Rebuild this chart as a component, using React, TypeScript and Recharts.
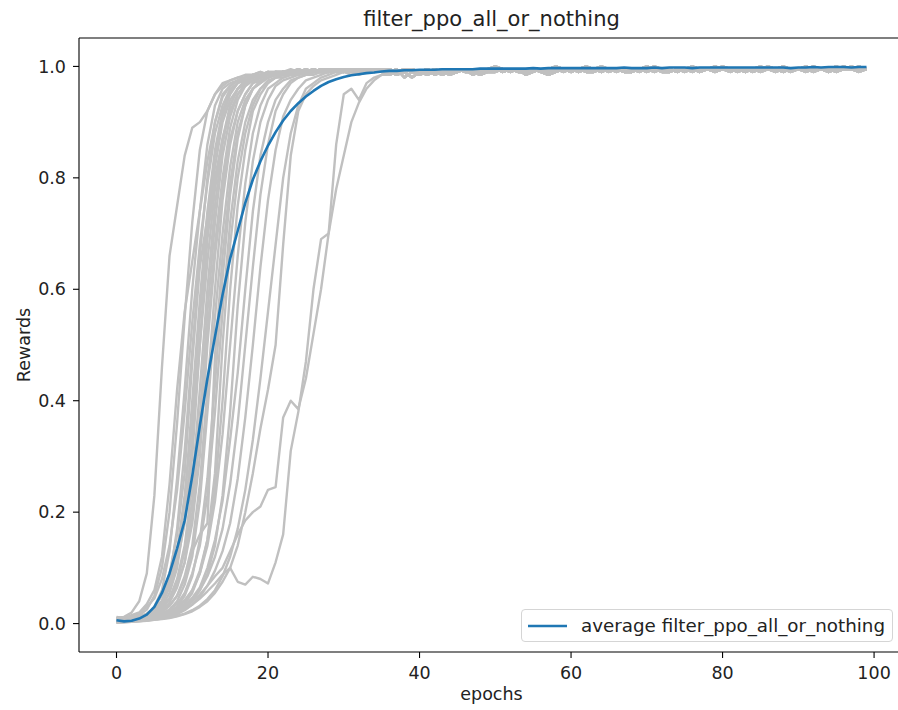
import React from 'react';
import { LineChart, Line, XAxis, YAxis, Legend, ReferenceLine } from 'recharts';

// mean reward over all seeds, epochs 0..99
const avgRewards = [
  0.006, 0.004, 0.005, 0.009, 0.016, 0.03, 0.055, 0.09, 0.135, 0.185,
  0.265, 0.355, 0.44, 0.515, 0.59, 0.655, 0.705, 0.755, 0.797, 0.83,
  0.858, 0.882, 0.903, 0.92, 0.934, 0.946, 0.956, 0.965, 0.972, 0.977,
  0.981, 0.984, 0.986, 0.988, 0.989, 0.991, 0.992, 0.992, 0.993, 0.993,
  0.994, 0.994, 0.994, 0.995, 0.995, 0.995, 0.995, 0.995, 0.996, 0.996,
  0.996, 0.996, 0.996, 0.996, 0.996, 0.997, 0.996, 0.997, 0.997, 0.997,
  0.997, 0.997, 0.997, 0.997, 0.997, 0.997, 0.997, 0.998, 0.997, 0.997,
  0.997, 0.998, 0.997, 0.998, 0.998, 0.998, 0.997, 0.998, 0.998, 0.998,
  0.998, 0.998, 0.998, 0.998, 0.998, 0.998, 0.998, 0.998, 0.998, 0.997,
  0.998, 0.998, 0.999, 0.998, 0.999, 0.999, 0.999, 0.998, 0.999, 0.999,
];

// individual runs, epochs 0..35
const run01 = [0.01,0.012,0.02,0.04,0.09,0.23,0.46,0.66,0.75,0.84,0.89,0.9,0.92,0.95,0.97,0.975,0.98,0.98,0.985,0.98,0.985,0.99,0.985,0.99,0.99,0.985,0.99,0.99,0.995,0.99,0.99,0.995,0.99,0.995,0.99,0.995];
const run02 = [0.008,0.01,0.015,0.02,0.035,0.06,0.12,0.25,0.42,0.56,0.65,0.74,0.83,0.9,0.95,0.965,0.975,0.98,0.985,0.98,0.99,0.985,0.99,0.99,0.985,0.99,0.995,0.99,0.99,0.995,0.99,0.995,0.995,0.99,0.995,0.995];
const run03 = [0.005,0.006,0.01,0.015,0.025,0.05,0.1,0.2,0.36,0.55,0.72,0.85,0.92,0.95,0.965,0.975,0.98,0.985,0.985,0.99,0.985,0.99,0.99,0.995,0.99,0.99,0.995,0.99,0.995,0.99,0.995,0.995,0.99,0.995,0.995,0.99];
const run04 = [0.003,0.004,0.006,0.01,0.016,0.03,0.06,0.13,0.26,0.42,0.6,0.74,0.86,0.93,0.96,0.97,0.975,0.98,0.985,0.99,0.985,0.99,0.99,0.99,0.995,0.99,0.99,0.995,0.99,0.995,0.995,0.99,0.995,0.99,0.995,0.995];
const run05 = [0.01,0.008,0.012,0.018,0.03,0.045,0.08,0.14,0.24,0.38,0.54,0.68,0.79,0.88,0.93,0.96,0.97,0.98,0.985,0.98,0.99,0.99,0.985,0.99,0.995,0.99,0.99,0.995,0.995,0.99,0.995,0.99,0.995,0.995,0.99,0.995];
const run06 = [0.004,0.005,0.007,0.009,0.014,0.022,0.04,0.08,0.17,0.31,0.49,0.66,0.8,0.9,0.945,0.965,0.975,0.98,0.98,0.985,0.99,0.985,0.99,0.99,0.99,0.995,0.99,0.995,0.99,0.995,0.99,0.995,0.995,0.99,0.995,0.995];
const run07 = [0.006,0.007,0.009,0.012,0.018,0.028,0.05,0.09,0.16,0.27,0.47,0.64,0.73,0.84,0.91,0.95,0.97,0.975,0.98,0.985,0.985,0.99,0.99,0.985,0.99,0.99,0.995,0.99,0.995,0.995,0.99,0.995,0.99,0.995,0.995,0.99];
const run08 = [0.002,0.003,0.005,0.008,0.012,0.02,0.035,0.065,0.12,0.22,0.4,0.58,0.74,0.85,0.92,0.955,0.97,0.98,0.985,0.985,0.99,0.99,0.985,0.99,0.995,0.99,0.99,0.995,0.99,0.995,0.995,0.99,0.995,0.995,0.99,0.995];
const run09 = [0.008,0.006,0.008,0.011,0.015,0.024,0.04,0.07,0.13,0.23,0.36,0.55,0.71,0.82,0.9,0.94,0.96,0.975,0.98,0.98,0.985,0.99,0.99,0.985,0.99,0.99,0.995,0.99,0.995,0.99,0.995,0.995,0.99,0.995,0.99,0.995];
const run10 = [0.003,0.004,0.006,0.008,0.011,0.018,0.03,0.055,0.1,0.19,0.33,0.5,0.65,0.78,0.87,0.93,0.96,0.97,0.98,0.985,0.985,0.99,0.99,0.99,0.985,0.99,0.995,0.99,0.99,0.995,0.995,0.99,0.995,0.99,0.995,0.995];
const run11 = [0.012,0.01,0.011,0.013,0.017,0.025,0.04,0.065,0.11,0.18,0.3,0.5,0.69,0.8,0.87,0.92,0.95,0.965,0.975,0.98,0.985,0.985,0.99,0.99,0.99,0.995,0.99,0.99,0.995,0.99,0.995,0.995,0.99,0.995,0.995,0.99];
const run12 = [0.004,0.005,0.006,0.008,0.01,0.015,0.025,0.045,0.08,0.14,0.25,0.42,0.6,0.75,0.86,0.93,0.96,0.975,0.98,0.985,0.99,0.985,0.99,0.99,0.995,0.99,0.99,0.995,0.99,0.995,0.99,0.995,0.995,0.99,0.995,0.995];
const run13 = [0.006,0.006,0.007,0.009,0.012,0.018,0.028,0.045,0.075,0.13,0.22,0.37,0.56,0.72,0.84,0.91,0.95,0.97,0.975,0.98,0.985,0.99,0.99,0.985,0.99,0.99,0.995,0.99,0.995,0.995,0.99,0.995,0.99,0.995,0.995,0.99];
const run14 = [0.002,0.003,0.004,0.006,0.009,0.014,0.022,0.038,0.065,0.11,0.2,0.34,0.52,0.68,0.8,0.89,0.94,0.965,0.975,0.98,0.985,0.985,0.99,0.99,0.99,0.995,0.99,0.995,0.99,0.995,0.995,0.99,0.995,0.995,0.99,0.995];
const run15 = [0.01,0.009,0.01,0.012,0.015,0.02,0.03,0.045,0.07,0.11,0.18,0.3,0.5,0.66,0.78,0.87,0.92,0.95,0.97,0.975,0.98,0.985,0.99,0.985,0.99,0.99,0.995,0.99,0.99,0.995,0.99,0.995,0.995,0.99,0.995,0.995];
const run16 = [0.005,0.005,0.006,0.008,0.01,0.014,0.02,0.032,0.05,0.085,0.14,0.25,0.42,0.6,0.76,0.86,0.92,0.95,0.97,0.98,0.98,0.985,0.99,0.99,0.99,0.985,0.99,0.995,0.99,0.995,0.99,0.995,0.995,0.99,0.995,0.995];
const run17 = [0.003,0.004,0.005,0.006,0.008,0.011,0.016,0.025,0.04,0.07,0.12,0.22,0.38,0.55,0.7,0.82,0.9,0.94,0.96,0.975,0.98,0.985,0.985,0.99,0.99,0.99,0.995,0.99,0.995,0.99,0.995,0.995,0.99,0.995,0.99,0.995];
const run18 = [0.007,0.007,0.008,0.01,0.012,0.016,0.022,0.032,0.05,0.08,0.13,0.16,0.18,0.48,0.66,0.79,0.88,0.93,0.96,0.97,0.98,0.985,0.985,0.99,0.99,0.995,0.99,0.99,0.995,0.99,0.995,0.995,0.99,0.995,0.995,0.99];
const run19 = [0.004,0.004,0.005,0.006,0.008,0.01,0.014,0.02,0.03,0.05,0.085,0.15,0.26,0.43,0.62,0.77,0.87,0.93,0.96,0.97,0.98,0.985,0.99,0.985,0.99,0.99,0.995,0.99,0.995,0.995,0.99,0.995,0.99,0.995,0.995,0.99];
const run20 = [0.008,0.008,0.009,0.01,0.011,0.014,0.018,0.025,0.035,0.055,0.09,0.14,0.23,0.38,0.56,0.72,0.83,0.9,0.94,0.96,0.975,0.98,0.985,0.99,0.985,0.99,0.99,0.995,0.99,0.995,0.995,0.99,0.995,0.995,0.99,0.995];
const run21 = [0.002,0.003,0.003,0.004,0.006,0.008,0.011,0.016,0.024,0.036,0.055,0.09,0.15,0.27,0.5,0.68,0.8,0.88,0.93,0.96,0.97,0.98,0.985,0.985,0.99,0.99,0.995,0.99,0.99,0.995,0.99,0.995,0.995,0.99,0.995,0.995];
const run22 = [0.005,0.005,0.006,0.007,0.009,0.011,0.014,0.02,0.028,0.04,0.06,0.095,0.15,0.24,0.4,0.6,0.75,0.85,0.92,0.95,0.97,0.98,0.98,0.985,0.99,0.99,0.99,0.995,0.99,0.995,0.99,0.995,0.995,0.99,0.995,0.995];
const run23 = [0.01,0.01,0.011,0.012,0.013,0.015,0.018,0.022,0.03,0.042,0.06,0.09,0.14,0.22,0.34,0.5,0.66,0.79,0.88,0.93,0.96,0.97,0.98,0.985,0.985,0.99,0.99,0.995,0.99,0.995,0.995,0.99,0.995,0.99,0.995,0.995];
const run24 = [0.003,0.003,0.004,0.005,0.006,0.008,0.01,0.013,0.018,0.026,0.04,0.06,0.09,0.14,0.23,0.38,0.57,0.72,0.83,0.9,0.94,0.965,0.975,0.98,0.985,0.99,0.99,0.99,0.995,0.99,0.995,0.995,0.99,0.995,0.995,0.99];
const run25 = [0.006,0.006,0.007,0.008,0.009,0.011,0.014,0.018,0.024,0.033,0.046,0.065,0.1,0.15,0.22,0.33,0.45,0.6,0.74,0.84,0.9,0.94,0.96,0.975,0.98,0.985,0.99,0.99,0.99,0.995,0.99,0.995,0.995,0.99,0.995,0.995];
const run26 = [0.004,0.004,0.005,0.006,0.007,0.009,0.012,0.016,0.022,0.03,0.042,0.06,0.085,0.12,0.17,0.25,0.36,0.5,0.64,0.77,0.86,0.92,0.95,0.97,0.98,0.985,0.985,0.99,0.99,0.995,0.99,0.995,0.995,0.99,0.995,0.995];
const run27 = [0.002,0.002,0.003,0.004,0.005,0.007,0.009,0.012,0.017,0.024,0.034,0.048,0.068,0.095,0.13,0.18,0.26,0.37,0.5,0.64,0.76,0.85,0.91,0.94,0.96,0.975,0.98,0.985,0.99,0.99,0.995,0.99,0.995,0.995,0.99,0.995];
const run28 = [0.003,0.003,0.004,0.005,0.006,0.007,0.009,0.011,0.014,0.018,0.024,0.032,0.044,0.06,0.085,0.12,0.17,0.24,0.33,0.44,0.56,0.68,0.8,0.88,0.93,0.96,0.97,0.98,0.985,0.99,0.99,0.985,0.99,0.995,0.99,0.995];
const run29 = [0.004,0.004,0.005,0.005,0.006,0.007,0.008,0.01,0.013,0.017,0.022,0.03,0.04,0.055,0.075,0.1,0.14,0.2,0.27,0.35,0.42,0.5,0.68,0.84,0.92,0.95,0.965,0.975,0.98,0.985,0.99,0.99,0.985,0.99,0.995,0.99];
const run30 = [0.003,0.004,0.005,0.006,0.007,0.009,0.012,0.016,0.022,0.03,0.04,0.052,0.068,0.085,0.1,0.13,0.16,0.185,0.2,0.21,0.24,0.245,0.37,0.4,0.385,0.44,0.52,0.6,0.7,0.78,0.84,0.9,0.935,0.96,0.975,0.985];
const run31 = [0.005,0.005,0.006,0.007,0.008,0.01,0.012,0.015,0.02,0.026,0.034,0.045,0.058,0.072,0.088,0.1,0.075,0.07,0.084,0.08,0.072,0.11,0.16,0.31,0.38,0.47,0.6,0.69,0.7,0.86,0.95,0.96,0.94,0.97,0.98,0.985];

// plateau noise, epochs 36..99
const tailA = [
  0.995,0.99,0.995,0.995,0.99,0.985,0.99,0.995, 0.995,0.99,0.995,0.995,0.99,0.995,1.0,0.995,
  0.99,0.995,0.995,0.995,0.99,0.995,1.0,0.995, 0.995,0.99,0.995,0.995,1.0,0.995,0.995,0.99,
  0.995,0.995,1.0,0.995,0.995,0.995,0.99,0.995, 1.0,0.995,0.995,0.995,1.0,0.995,0.995,0.99,
  0.995,1.0,0.995,0.995,1.0,0.995,0.995,0.995, 1.0,0.995,0.995,1.0,0.995,0.995,1.0,0.995,
];
const tailB = [
  0.99,0.985,0.99,0.98,0.99,0.995,0.99,0.985, 0.99,0.995,0.99,0.99,0.985,0.99,0.995,0.99,
  0.995,0.99,0.99,0.995,0.99,0.985,0.99,0.995, 0.99,0.995,0.99,0.99,0.995,0.99,0.995,0.99,
  0.99,0.995,0.99,0.995,0.99,0.99,0.995,0.99, 0.995,0.99,0.995,0.99,0.995,0.995,0.99,0.995,
  0.99,0.995,0.995,0.99,0.995,0.99,0.995,0.995, 0.99,0.995,0.995,0.99,0.995,0.995,0.99,0.995,
];
const tailC = [
  0.985,0.99,0.995,0.99,0.99,0.995,0.985,0.99, 0.995,0.99,0.995,0.985,0.99,0.995,0.995,0.99,
  0.995,0.995,0.99,0.995,0.995,0.99,0.995,0.995, 0.99,0.995,1.0,0.995,0.99,0.995,0.995,0.995,
  0.99,0.995,0.995,1.0,0.995,0.99,0.995,0.995, 0.995,0.99,0.995,1.0,0.995,0.995,0.995,0.99,
  0.995,0.995,1.0,0.995,0.99,0.995,0.995,1.0, 0.995,0.995,0.99,0.995,1.0,0.995,0.995,0.995,
];
const tailD = [
  0.99,0.995,0.98,0.99,0.985,0.99,0.995,0.99, 0.985,0.99,0.995,0.99,0.995,0.99,0.99,0.995,
  0.99,0.995,0.985,0.99,0.995,0.99,0.995,0.99, 0.995,0.99,0.995,0.995,0.99,0.995,0.99,0.995,
  0.995,0.99,0.995,0.99,0.995,0.995,0.99,0.995, 0.99,0.995,0.995,0.99,0.995,0.99,0.995,0.995,
  0.995,0.99,0.995,0.995,0.99,0.995,0.995,0.99, 0.995,0.995,0.99,0.995,0.995,1.0,0.995,0.995,
];

const runs = [
  run01, run02, run03, run04, run05, run06, run07, run08, run09, run10,
  run11, run12, run13, run14, run15, run16, run17, run18, run19, run20,
  run21, run22, run23, run24, run25, run26, run27, run28, run29, run30, run31,
];
const tails = [tailA, tailB, tailC, tailD];
const TAIL_START = 36;

const xTicks = [0, 20, 40, 60, 80, 100];
const yTicks = [0, 0.2, 0.4, 0.6, 0.8, 1.0];

const FONT = '"DejaVu Sans", sans-serif';
const INK = '#222';

const runSeries = runs.map((r, i) =>
  r.map((y, x) => ({ x, y })).concat(tails[i % tails.length].map((y, j) => ({ x: TAIL_START + j, y })))
);
const avgSeries = avgRewards.map((y, x) => ({ x, y }));

const LegendBox = () => (
  <div
    style={{
      boxSizing: 'border-box',
      width: '100%',
      height: '100%',
      border: '1px solid #d5d5d5',
      borderRadius: 4,
      background: 'rgba(255,255,255,0.8)',
      display: 'flex',
      alignItems: 'center',
      fontFamily: FONT,
      fontSize: 18.3,
      color: INK,
      whiteSpace: 'nowrap',
    }}
  >
    <svg width={53} height={10} style={{ marginLeft: 6, flex: 'none' }}>
      <line x1={0} y1={5} x2={39} y2={5} stroke="#1f77b4" strokeWidth={2.6} />
    </svg>
    <span>average filter_ppo_all_or_nothing</span>
  </div>
);

const App = () => {
  return (
    <div style={{ position: 'absolute', left: 0, top: 0, width: 898, height: 710, overflow: 'hidden', background: '#fff' }}>
      <LineChart width={920} height={710} margin={{ top: 38, right: 16, left: 0, bottom: 28 }}>
        <XAxis
          dataKey="x"
          type="number"
          domain={[-4.95, 103.95]}
          ticks={xTicks}
          allowDataOverflow
          height={30}
          tickSize={6}
          tickMargin={9}
          stroke="#000"
          strokeWidth={1.1}
          tick={{ fill: INK, fontSize: 17.5, fontFamily: FONT }}
        />
        <YAxis
          dataKey="y"
          type="number"
          domain={[-0.051, 1.051]}
          ticks={yTicks}
          allowDataOverflow
          width={79}
          tickSize={6}
          tickMargin={7}
          stroke="#000"
          strokeWidth={1.1}
          tickFormatter={(v: number) => v.toFixed(1)}
          tick={{ fill: INK, fontSize: 17.5, fontFamily: FONT }}
        />
        <ReferenceLine y={1.051} stroke="#000" strokeWidth={1.1} />
        <ReferenceLine x={103.95} stroke="#000" strokeWidth={1.1} />
        {runSeries.map((d, i) => (
          <Line
            key={'run' + i}
            data={d}
            dataKey="y"
            type="linear"
            stroke="#c0c0c0"
            strokeWidth={2.4}
            strokeLinejoin="round"
            dot={false}
            activeDot={false}
            legendType="none"
            isAnimationActive={false}
          />
        ))}
        <Line
          data={avgSeries}
          dataKey="y"
          name="average filter_ppo_all_or_nothing"
          type="linear"
          stroke="#1f77b4"
          strokeWidth={2.6}
          strokeLinejoin="round"
          dot={false}
          activeDot={false}
          isAnimationActive={false}
        />
        <Legend
          layout="horizontal"
          verticalAlign="middle"
          align="center"
          wrapperStyle={{ left: 521, top: 609, width: 372, height: 33 }}
          content={() => <LegendBox />}
        />
        <text x={491.5} y={26} textAnchor="middle" fontFamily={FONT} fontSize={21} fill={INK}>
          filter_ppo_all_or_nothing
        </text>
        <text x={491.5} y={700} textAnchor="middle" fontFamily={FONT} fontSize={17.5} fill={INK}>
          epochs
        </text>
        <text x={30} y={345} textAnchor="middle" fontFamily={FONT} fontSize={17.5} fill={INK} transform="rotate(-90, 30, 345)">
          Rewards
        </text>
      </LineChart>
    </div>
  );
};

export default App;
